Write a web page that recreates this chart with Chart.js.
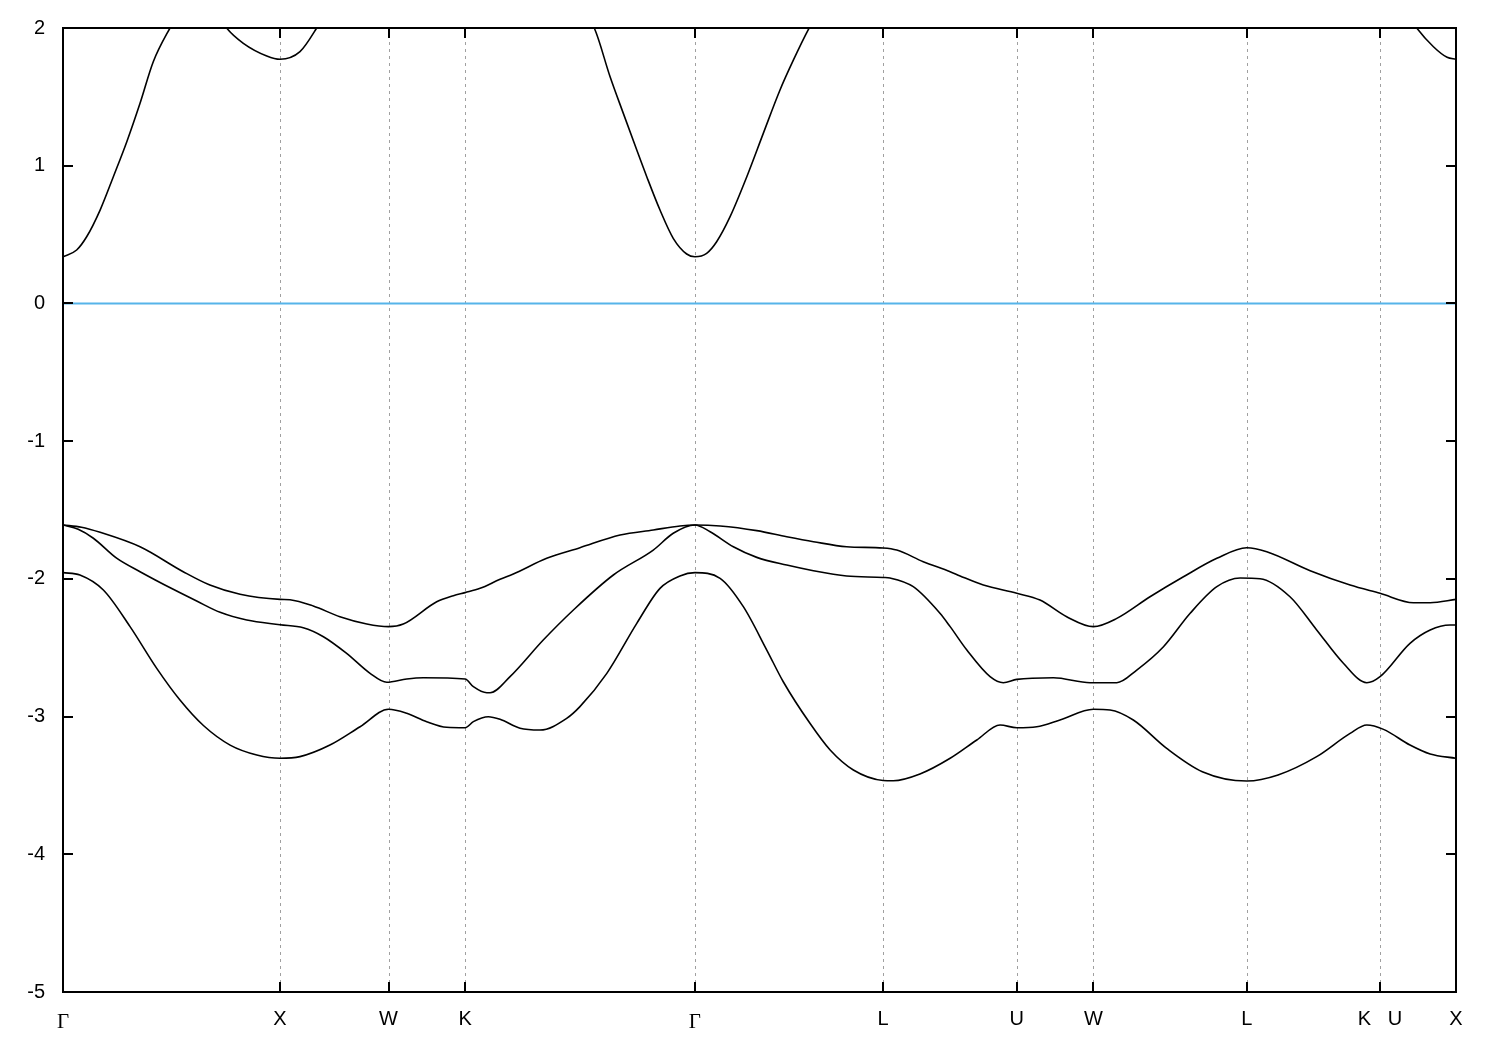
<!DOCTYPE html>
<html>
<head>
<meta charset="utf-8">
<script src="https://cdn.jsdelivr.net/npm/chart.js@4.4.1/dist/chart.umd.min.js"></script>
<style>
  html, body { margin: 0; padding: 0; background: #ffffff; }
  #wrap { width: 1500px; height: 1050px; position: relative; }
</style>
</head>
<body>
<div id="wrap"><canvas id="c"></canvas></div>
<script>
// ---- tick positions / labels (k-path, 2pi/a units) ----
const kTicks = [0.000, 1.000, 1.500, 1.853, 2.912, 3.779, 4.395, 4.748, 5.455, 6.069, 6.419];
const kLabels = ['Γ', 'X', 'W', 'K', 'Γ', 'L', 'U', 'W', 'L', 'K   U', 'X'];
const energyTicks = [-5, -4, -3, -2, -1, 0, 1, 2];
const energyLabels = ['-5', '-4', '-3', '-2', '-1', '0', '1', '2'];
const fermiLevel = 0;

// ---- bands: [k, E(eV)] ----
const conductionBand = [
  [0.000,0.339],[0.063,0.388],[0.109,0.484],[0.171,0.678],[0.232,0.920],[0.294,1.174],[0.355,1.453],[0.416,1.755],
  [0.493,2.000],[0.560,2.180],[0.622,2.260],[0.690,2.160],[0.754,2.000],[0.831,1.889],[0.939,1.797],[1.000,1.773],
  [1.092,1.828],[1.169,2.000],[1.276,2.300],[1.500,2.600],[1.853,2.700],[2.200,2.550],[2.448,2.000],[2.521,1.646],
  [2.582,1.380],[2.644,1.114],[2.690,0.920],[2.751,0.678],[2.812,0.473],[2.874,0.359],[2.912,0.339],[2.966,0.364],
  [3.012,0.448],[3.074,0.630],[3.151,0.920],[3.227,1.235],[3.304,1.550],[3.366,1.768],[3.435,1.990],[3.550,2.300],
  [3.779,2.600],[4.395,2.800],[4.748,2.900],[5.455,2.600],[6.069,2.400],[6.238,2.000],[6.315,1.864],[6.378,1.787],
  [6.419,1.773]
];
const valenceBand1 = [
  [0.000,-1.609],[0.085,-1.625],[0.171,-1.662],[0.355,-1.767],[0.554,-1.948],[0.677,-2.045],[0.816,-2.112],[1.000,-2.149],[1.046,-2.152],
  [1.153,-2.197],[1.276,-2.275],[1.400,-2.328],[1.500,-2.347],[1.568,-2.328],[1.722,-2.166],[1.799,-2.122],[1.853,-2.100],
  [1.922,-2.069],[2.014,-2.003],[2.075,-1.965],[2.229,-1.851],[2.382,-1.774],[2.567,-1.682],[2.720,-1.645],[2.843,-1.616],
  [2.912,-1.609],[3.028,-1.616],[3.197,-1.650],[3.335,-1.694],[3.458,-1.730],[3.611,-1.767],[3.779,-1.776],[3.842,-1.791],
  [3.964,-1.875],[4.088,-1.948],[4.134,-1.979],[4.241,-2.045],[4.395,-2.105],[4.502,-2.154],[4.625,-2.275],[4.748,-2.347],
  [4.856,-2.287],[5.009,-2.130],[5.163,-1.985],[5.317,-1.851],[5.455,-1.774],[5.547,-1.803],[5.747,-1.941],[5.931,-2.045],
  [6.069,-2.105],[6.223,-2.173],[6.300,-2.173],[6.419,-2.149]
];
const valenceBand2 = [
  [0.000,-1.609],[0.070,-1.640],[0.140,-1.705],[0.247,-1.850],[0.355,-1.948],[0.508,-2.076],[0.616,-2.161],[0.724,-2.243],[0.847,-2.299],
  [1.000,-2.333],[1.107,-2.355],[1.200,-2.420],[1.307,-2.541],[1.415,-2.686],[1.492,-2.751],[1.584,-2.727],[1.660,-2.718],
  [1.853,-2.727],[1.891,-2.783],[1.953,-2.827],[1.968,-2.827],[2.060,-2.710],[2.213,-2.444],[2.352,-2.226],[2.536,-1.972],
  [2.720,-1.791],[2.812,-1.669],[2.912,-1.609],[2.982,-1.658],[3.089,-1.767],[3.197,-1.844],[3.335,-1.900],[3.458,-1.941],
  [3.611,-1.979],[3.779,-1.990],[3.811,-1.994],[3.918,-2.057],[4.041,-2.250],[4.088,-2.347],[4.165,-2.517],[4.272,-2.710],
  [4.333,-2.754],[4.395,-2.730],[4.564,-2.718],[4.733,-2.754],[4.856,-2.754],[4.948,-2.662],[5.071,-2.493],[5.194,-2.250],
  [5.317,-2.057],[5.424,-1.994],[5.516,-1.999],[5.654,-2.130],[5.777,-2.371],[5.900,-2.613],[6.008,-2.754],[6.069,-2.710],
  [6.207,-2.468],[6.300,-2.371],[6.392,-2.335],[6.419,-2.335]
];
const valenceBand3 = [
  [0.000,-1.955],[0.078,-1.972],[0.186,-2.081],[0.309,-2.347],[0.432,-2.650],[0.539,-2.880],[0.647,-3.065],[0.770,-3.207],
  [0.893,-3.279],[1.000,-3.303],[1.092,-3.291],[1.230,-3.207],[1.369,-3.074],[1.500,-2.947],[1.584,-2.976],[1.676,-3.037],
  [1.768,-3.078],[1.853,-3.081],[1.891,-3.037],[1.960,-3.001],[2.014,-3.020],[2.106,-3.085],[2.198,-3.098],[2.321,-3.013],
  [2.382,-2.928],[2.506,-2.686],[2.644,-2.323],[2.751,-2.069],[2.843,-1.979],[2.912,-1.955],[3.028,-1.996],[3.135,-2.202],
  [3.243,-2.517],[3.319,-2.747],[3.442,-3.049],[3.535,-3.243],[3.642,-3.388],[3.779,-3.464],[3.826,-3.466],[3.949,-3.417],
  [4.088,-3.303],[4.211,-3.170],[4.318,-3.061],[4.395,-3.081],[4.487,-3.074],[4.594,-3.025],[4.748,-2.947],[4.825,-2.952],
  [4.932,-3.025],[5.086,-3.231],[5.250,-3.400],[5.455,-3.468],[5.599,-3.424],[5.777,-3.291],[5.931,-3.122],[6.008,-3.061],
  [6.085,-3.093],[6.207,-3.207],[6.300,-3.272],[6.419,-3.303]
];

const toXY = arr => arr.map(p => ({ x: p[0], y: p[1] }));
const bandStyle = {
  borderColor: '#000000', borderWidth: 1.6, pointRadius: 0,
  cubicInterpolationMode: 'monotone', fill: false
};

const framePlugin = {
  id: 'frame',
  beforeDatasetsDraw(chart) {
    const { ctx, chartArea: a, scales: { x } } = chart;
    ctx.save();
    ctx.strokeStyle = '#a0a0a0';
    ctx.lineWidth = 1;
    ctx.setLineDash([3, 4]);
    kTicks.forEach((v, i) => {
      if (i === 0 || i === kTicks.length - 1) return;
      const px = Math.round(x.getPixelForValue(v)) + 0.5;
      ctx.beginPath(); ctx.moveTo(px, a.top); ctx.lineTo(px, a.bottom); ctx.stroke();
    });
    ctx.restore();
  },
  afterDatasetsDraw(chart) {
    const { ctx, chartArea: a, scales: { x, y } } = chart;
    const tl = 10;
    ctx.save();
    ctx.strokeStyle = '#000000';
    ctx.lineWidth = 2;
    ctx.setLineDash([]);
    ctx.beginPath();
    kTicks.forEach((v, i) => {
      if (i === 0 || i === kTicks.length - 1) return;
      const px = Math.round(x.getPixelForValue(v));
      ctx.moveTo(px, a.bottom); ctx.lineTo(px, a.bottom - tl);
      ctx.moveTo(px, a.top); ctx.lineTo(px, a.top + tl);
    });
    energyTicks.forEach(v => {
      const py = Math.round(y.getPixelForValue(v));
      ctx.moveTo(a.left, py); ctx.lineTo(a.left + tl, py);
      ctx.moveTo(a.right, py); ctx.lineTo(a.right - tl, py);
    });
    ctx.stroke();
    ctx.strokeRect(a.left, a.top, a.right - a.left, a.bottom - a.top);
    ctx.restore();
  }
};

new Chart(document.getElementById('c'), {
  type: 'line',
  data: {
    datasets: [
      { label: 'Fermi level', data: [{ x: kTicks[0], y: fermiLevel }, { x: kTicks[kTicks.length - 1], y: fermiLevel }],
        borderColor: '#56b4e9', borderWidth: 2, pointRadius: 0, fill: false },
      { label: 'CB', data: toXY(conductionBand), ...bandStyle },
      { label: 'VB1', data: toXY(valenceBand1), ...bandStyle },
      { label: 'VB2', data: toXY(valenceBand2), ...bandStyle },
      { label: 'VB3', data: toXY(valenceBand3), ...bandStyle }
    ]
  },
  options: {
    responsive: true,
    maintainAspectRatio: false,
    animation: false,
    events: [],
    layout: { padding: { top: 28, right: 44, left: 0, bottom: 0 } },
    plugins: { legend: { display: false }, tooltip: { enabled: false } },
    scales: {
      x: {
        type: 'linear', min: kTicks[0], max: kTicks[kTicks.length - 1],
        grid: { display: false, drawTicks: false, tickLength: 0 },
        border: { display: false },
        afterBuildTicks: s => { s.ticks = kTicks.map(v => ({ value: v })); },
        afterFit: s => { s.height = 58; s.paddingLeft = 0; s.paddingRight = 0; },
        ticks: {
          autoSkip: false, maxRotation: 0, minRotation: 0, padding: 15, color: '#000000',
          callback: (v, i) => kLabels[i],
          font: c => (kLabels[c.index] === 'Γ')
            ? { family: 'Liberation Serif', size: 21, lineHeight: 1.43 }
            : { family: 'Liberation Sans', size: 20, lineHeight: 1.2 }
        }
      },
      y: {
        type: 'linear', min: energyTicks[0], max: energyTicks[energyTicks.length - 1],
        grid: { display: false, drawTicks: false, tickLength: 0 },
        border: { display: false },
        afterBuildTicks: s => { s.ticks = energyTicks.map(v => ({ value: v })); },
        afterFit: s => { s.width = 63; s.paddingTop = 0; s.paddingBottom = 0; },
        ticks: {
          padding: 18, color: '#000000',
          font: { family: 'Liberation Sans', size: 20 },
          callback: (v, i) => energyLabels[i]
        }
      }
    }
  },
  plugins: [framePlugin]
});
</script>
</body>
</html>
